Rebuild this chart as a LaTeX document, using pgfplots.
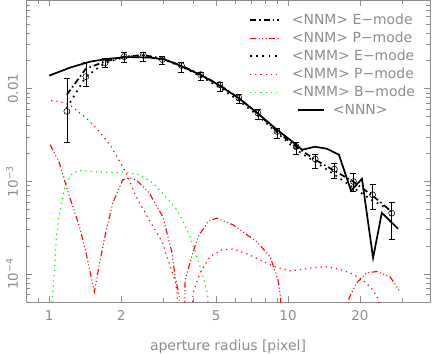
\documentclass[border=0pt]{standalone}
\usepackage{fontspec}
\setmainfont{DejaVu Sans}
\usepackage{pgfplots}
\pgfplotsset{compat=1.18}
\definecolor{axgray}{gray}{0.55}
\definecolor{lred}{rgb}{1,0,0}
\definecolor{lgreen}{rgb}{0,0.95,0}
\begin{document}
\begin{tikzpicture}
\path[use as bounding box] (-26bp,-52bp) rectangle (406bp,302bp);
\begin{axis}[
  scale only axis, width=404bp, height=302bp,
  xmode=log, ymode=log,
  xmin=0.8, xmax=39.3, ymin=4.98e-5, ymax=0.0905,
  axis line style={axgray, line width=0.6pt},
  tick style={axgray, line width=0.6pt},
  major tick length=6bp, minor tick length=4bp,
  tick pos=both, tick align=inside,
  xtick={1,2,5,10,20}, xticklabels={1,2,5,10,20},
  minor xtick={0.9,3,4,6,7,8,9,30},
  ytick={1e-4,1e-3,1e-2},
  yticklabels={10\textsuperscript{−4},10\textsuperscript{−3},0.01},
  minor ytick={6e-5,7e-5,8e-5,9e-5,2e-4,3e-4,4e-4,5e-4,6e-4,7e-4,8e-4,9e-4,2e-3,3e-3,4e-3,5e-3,6e-3,7e-3,8e-3,9e-3,2e-2,3e-2,4e-2,5e-2,6e-2,7e-2,8e-2,9e-2},
  tick label style={axgray, font=\fontsize{13.5}{16}\selectfont},
  xticklabel style={anchor=base, yshift=-18bp},
  yticklabel style={xshift=-8bp, rotate=90, anchor=base},
  xlabel={aperture radius [pixel]},
  xlabel style={axgray, font=\fontsize{14}{16}\selectfont, at={(rel axis cs:0.5,0)}, anchor=base, yshift=-48bp},
  legend style={draw=none, fill=none, at={(rel axis cs:0.552,0.957)}, anchor=north west,
    inner sep=0pt, text=axgray, font=\fontsize{14}{16}\selectfont,
    nodes={inner sep=0pt, text height=11bp, text depth=3bp},
    row sep=4bp, /tikz/every odd column/.append style={column sep=12bp}},
  legend cell align=left,
  legend image code/.code={\draw[mark repeat=2,mark phase=2] plot coordinates {(0bp,0bp) (14.5bp,0bp) (29bp,0bp)};},
]
% <NNM> E-mode : black thick dash-dot
\addplot[black, line width=1.7pt, dash pattern=on 6bp off 3bp on 1.5bp off 3bp] coordinates {
(1.186,0.00861) (1.425,0.01644) (1.713,0.01959) (2.062,0.02218) (2.479,0.02303) (2.980,0.02109) (3.581,0.01774) (4.305,0.01416) (5.177,0.01091) (6.223,0.00789) (7.482,0.00537) (8.995,0.00347) (10.81,0.00236) (13.0,0.00171) (15.63,0.00130) (18.79,0.00099) (22.59,0.00070) (27.16,0.00047)};
\addlegendentry{<NNM> E−mode}
% <NNM> P-mode : red dash-dot-dot-dot
\addplot[lred, line width=1.1pt, dash pattern=on 6bp off 2.5bp on 1bp off 2.5bp on 1bp off 2.5bp on 1bp off 2.5bp] coordinates {
(1.0097,0.002481) (1.1043,0.001573) (1.2162,0.000685) (1.3393,0.000325) (1.4283,0.0001674) (1.4986,0.0000935) (1.5469,0.0000643) (1.5987,0.000103) (1.6988,0.000233) (1.8471,0.000586) (2.0342,0.001038) (2.1610,0.001091) (2.3120,0.001038) (2.6207,0.000751) (2.99,0.000416) (3.2612,0.000174) (3.3667,0.0000935) (3.4995,0.0000593) (3.619,1e-7) (3.7076,0.0000861) (3.9547,0.000154) (4.2020,0.000253) (4.6272,0.000368) (5.0312,0.000400) (5.8884,0.000339) (7.3961,0.000223) (8.4097,0.000154) (9.0841,0.0000861) (9.303,0.0000564) (9.4386,1e-7) (17.48,1e-7) (18.0,0.0000550) (19.387,0.0000799) (21.344,0.000103) (23.499,0.000106) (26.72,0.0000935) (29.42,0.0000643)};
\addlegendentry{<NNM> P−mode}
% <NMM> E-mode : black dotted
\addplot[black, line width=1.7pt, dash pattern=on 1.7bp off 4.5bp] coordinates {
(1.186,0.0062) (1.425,0.01348) (1.713,0.01888) (2.062,0.02192) (2.479,0.02303) (2.980,0.02084) (3.581,0.01729) (4.305,0.01365) (5.177,0.01025) (6.223,0.00742) (7.482,0.00511) (8.995,0.00335) (10.81,0.00219) (13.0,0.00162) (15.63,0.00118) (18.79,0.00085) (22.59,0.00062) (27.16,0.00048)};
\addlegendentry{<NMM> E−mode}
% <NMM> P-mode : red dotted
\addplot[lred, line width=1.2pt, dash pattern=on 1.2bp off 4bp] coordinates {
(1.0195,0.007418) (1.1118,0.007237) (1.2162,0.006714) (1.4283,0.004822) (1.5987,0.003603) (1.8171,0.002378) (2.0996,0.001236) (2.3120,0.000685) (2.6207,0.000384) (2.99,0.000216) (3.1078,0.000154) (3.3667,0.0000861) (3.4324,0.0000623) (3.672,1e-7) (4.0045,0.0000623) (4.2840,0.000103) (4.7170,0.000154) (5.2792,0.000182) (5.8884,0.000186) (6.7205,0.000165) (7.6350,0.000142) (8.8247,0.000119) (10.195,0.000108) (10.874,0.000110) (12.725,0.000117) (14.518,0.000120) (16.508,0.000112) (18.172,0.000103) (20.596,0.0000861) (22.676,0.0000671) (24.03,0.0000524) (24.49,1e-7)};
\addlegendentry{<NMM> P−mode}
% <NMM> B-mode : green dotted
\addplot[lgreen, line width=1.2pt, dash pattern=on 1.2bp off 4bp] coordinates {
(1.0243,1e-7) (1.0293,0.0000524) (1.0524,0.000110) (1.0698,0.000233) (1.1043,0.000457) (1.1410,0.000685) (1.1780,0.000963) (1.2565,0.001236) (1.3612,0.001309) (1.5231,0.001276) (1.7824,0.001245) (2.0996,0.001245) (2.3800,0.001176) (2.7158,0.000963) (3.1078,0.000663) (3.4222,0.000492) (3.6376,0.000368) (3.8905,0.000253) (4.1499,0.000154) (4.4099,0.0000935) (4.5693,0.0000671) (4.6272,0.0000524) (4.672,1e-7)};
\addlegendentry{<NMM> B−mode}
% <NNN> : black solid
\addplot[black, line width=1.7pt, legend image code/.code={\path[draw=none,fill=none] (0bp,0bp) -- (29bp,0bp); \draw[overlay] (48bp,0bp) -- (74bp,0bp);}] coordinates {
(1.0,0.01382) (1.2242,0.01687) (1.4845,0.01958) (1.800,0.02111) (2.1825,0.02190) (2.6462,0.02163) (3.058,0.02058) (3.532,0.01772) (4.284,0.01417) (5.095,0.01105) (6.178,0.00799) (7.418,0.00550) (8.995,0.00360) (10.195,0.00281) (11.45,0.00219) (12.97,0.00236) (14.56,0.002246) (16.34,0.001934) (18.35,0.000790) (20.4,0.001064) (22.7,0.000149) (24.7,0.000457) (28.9,0.000307)};
\addlegendentry{\hspace*{41bp}<NNN>}
% measured points with error bars
\addplot[black, line width=0.8pt, only marks, mark=o, mark size=3bp, mark options={line width=0.6pt},
  error bars/.cd, y dir=both, y explicit, error mark options={rotate=90, mark size=3bp, line width=0.8pt}] coordinates {
(1.186,0.00568) += (0,0.00706) -= (0,0.00305)
(1.425,0.01348) += (0,0.00562) -= (0,0.00297)
(1.713,0.01897) += (0,0.00198) -= (0,0.00181)
(2.062,0.02218) += (0,0.00214) -= (0,0.00295)
(2.479,0.02303) += (0,0.00165) -= (0,0.0033)
(2.980,0.02059) += (0,0.00175) -= (0,0.00242)
(3.581,0.01774) += (0,0.00123) -= (0,0.00259)
(4.305,0.01416) += (0,0.00084) -= (0,0.00196)
(5.177,0.01104) += (0,0.00066) -= (0,0.00169)
(6.223,0.00793) += (0,0.00068) -= (0,0.00104)
(7.482,0.00546) += (0,0.00047) -= (0,0.00076)
(8.995,0.003454) += (0,0.000305) -= (0,0.000524)
(10.81,0.002377) += (0,0.00025) -= (0,0.000443)
(13.0,0.001738) += (0,0.000196) -= (0,0.000348)
(15.63,0.001355) += (0,0.00019) -= (0,0.000272)
(18.79,0.000995) += (0,0.000232) -= (0,0.000219)
(22.59,0.000715) += (0,0.000202) -= (0,0.000223)
(27.16,0.000453) += (0,0.000137) -= (0,0.000216)};
\end{axis}
\end{tikzpicture}
\end{document}
